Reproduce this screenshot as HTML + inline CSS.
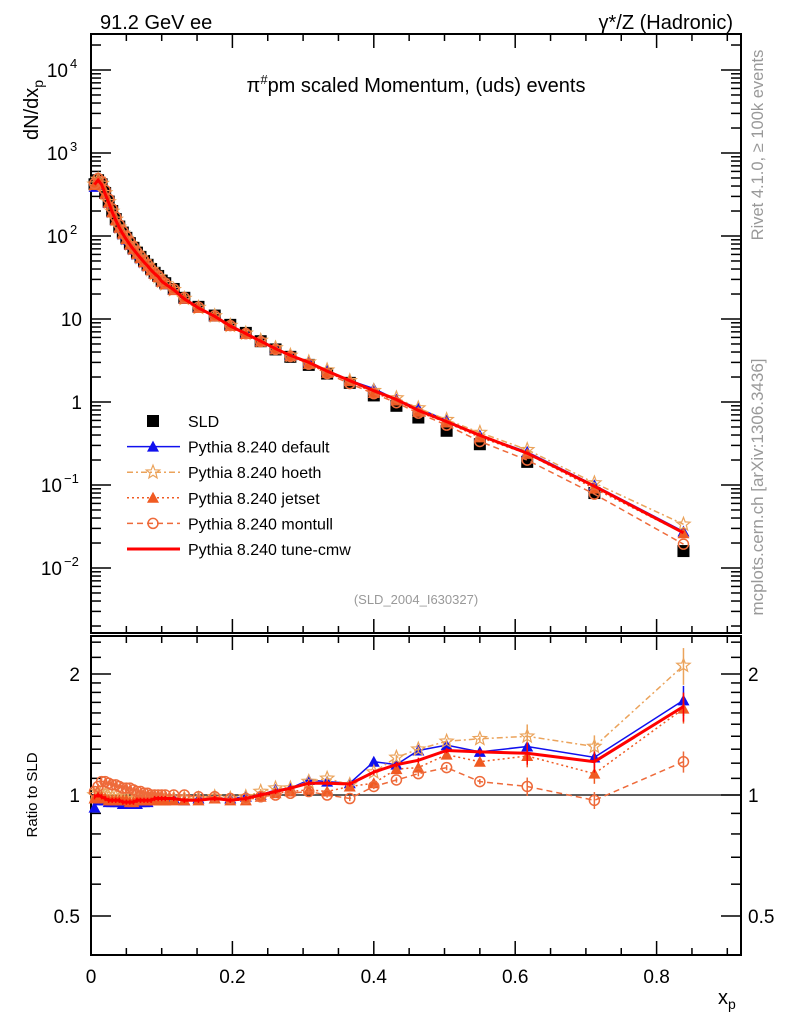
<!DOCTYPE html>
<html><head><meta charset="utf-8"><style>
body{margin:0;background:#fff;}
svg{display:block;font-family:"Liberation Sans",sans-serif;}
</style></head><body>
<svg id="c" width="786" height="1024" xmlns="http://www.w3.org/2000/svg">
<rect width="786" height="1024" fill="#fff"/>
<text x="100" y="29" font-size="20">91.2 GeV ee</text>
<text x="733" y="29" font-size="20" text-anchor="end">γ*/Z (Hadronic)</text>
<text x="416" y="92" font-size="20" text-anchor="middle">π<tspan dy="-8" font-size="13">#</tspan><tspan dy="8">pm scaled Momentum, (uds) events</tspan></text>
<text x="416" y="604" font-size="13" fill="#999" text-anchor="middle">(SLD_2004_I630327)</text>
<text transform="translate(763,145) rotate(-90)" font-size="16.5" fill="#999" text-anchor="middle">Rivet 4.1.0, ≥ 100k events</text>
<text transform="translate(763,487) rotate(-90)" font-size="17" fill="#999" text-anchor="middle">mcplots.cern.ch [arXiv:1306.3436]</text>
<text transform="translate(38,140) rotate(-90)" font-size="20" text-anchor="start">dN/dx<tspan dy="5" font-size="14">p</tspan></text>
<text transform="translate(37,795) rotate(-90)" font-size="15" text-anchor="middle">Ratio to SLD</text>
<text x="718" y="1004" font-size="20">x<tspan dy="5" font-size="14">p</tspan></text>
<g id="g"></g>
</svg>
<script>
const xs=[0.005,0.01,0.015,0.02,0.025,0.03,0.035,0.04,0.045,0.05,0.055,0.06,0.065,0.07,0.075,0.08,0.085,0.09,0.095,0.1,0.105,
0.117,0.132,0.152,0.175,0.197,0.219,0.24,0.261,0.282,0.308,0.334,0.366,0.40,0.432,0.463,0.503,0.55,0.617,0.712,0.838];
const sld=[420,470,420,330,260,200,160,130,110,95,82,72,63,56,50,45,40,36,33,29,27,
23,18,14,11,8.5,6.8,5.4,4.3,3.5,2.8,2.2,1.7,1.2,0.9,0.65,0.45,0.31,0.19,0.08,0.016];
const rDefault=[0.93,0.97,0.98,0.97,0.96,0.96,0.96,0.96,0.95,0.95,0.95,0.95,0.95,0.96,0.96,0.96,0.97,0.97,0.97,0.97,0.97,
0.98,0.97,0.98,0.98,0.98,0.99,1.0,1.03,1.04,1.09,1.08,1.07,1.21,1.19,1.29,1.33,1.28,1.32,1.24,1.72];
const rHoeth=[1.0,1.02,1.02,1.0,0.99,0.99,0.99,0.98,0.98,0.98,0.98,0.98,0.98,0.98,0.98,0.98,0.98,0.98,0.98,0.98,0.98,
0.98,0.98,0.98,0.99,0.98,0.99,1.02,1.04,1.04,1.08,1.10,1.06,1.14,1.24,1.30,1.36,1.38,1.40,1.32,2.1];
const rJetset=[0.98,0.99,0.99,0.98,0.97,0.97,0.97,0.97,0.97,0.97,0.96,0.96,0.97,0.97,0.97,0.97,0.97,0.97,0.97,0.97,0.97,
0.97,0.97,0.97,0.98,0.97,0.97,0.99,1.01,1.02,1.03,1.02,1.05,1.07,1.16,1.17,1.26,1.21,1.25,1.13,1.64];
const rMontull=[1.02,1.05,1.08,1.08,1.07,1.06,1.06,1.05,1.04,1.04,1.04,1.03,1.02,1.02,1.01,1.01,1.0,1.0,1.0,1.0,1.0,
1.0,1.0,0.99,0.99,0.98,0.98,0.99,1.0,1.01,1.02,1.0,0.98,1.05,1.09,1.13,1.17,1.08,1.05,0.97,1.21];
const rCmw=[0.99,1.0,0.99,0.98,0.97,0.97,0.97,0.97,0.96,0.96,0.96,0.96,0.97,0.97,0.97,0.97,0.97,0.98,0.98,0.98,0.98,
0.98,0.97,0.97,0.98,0.97,0.98,1.0,1.02,1.04,1.07,1.07,1.065,1.14,1.19,1.22,1.29,1.28,1.27,1.21,1.66];
const xTicks=[0,0.2,0.4,0.6,0.8];
const xTickLabels=["0","0.2","0.4","0.6","0.8"];
const yDecades=[-2,-1,0,1,2,3,4];
const yDecadeLabels=["10","10","1","10","10","10","10"];
const yDecadeSup=["−2","−1","","","2","3","4"];
const rTicks=[0.5,1,2];
const rTickLabels=["0.5","1","2"];

const L=91,R=741,T=34,B=633,RT=636,RB=955;
const X=v=>L+v*707;
const Y=v=>402-83*Math.log10(v);
const YR=r=>795-121*Math.log2(r);
const NS="http://www.w3.org/2000/svg";
const g=document.getElementById('g');
function mk(t,a,p){const e=document.createElementNS(NS,t);for(const k in a)e.setAttribute(k,a[k]);(p||g).appendChild(e);return e;}

let f=mk('rect',{x:L,y:T,width:R-L,height:B-T,fill:'none',stroke:'#000','stroke-width':2});

f=mk('rect',{x:L,y:RT,width:R-L,height:RB-RT,fill:'none',stroke:'#000','stroke-width':2});


for(let v=0;v<=0.92;v+=0.05){
  const big=Math.abs(v/0.2-Math.round(v/0.2))<1e-6, len=big?14:7, x=X(v);
  [[B,-1],[T,1],[RT,1],[RB,-1]].forEach(([y,d])=>mk('line',{x1:x,x2:x,y1:y,y2:y+d*len,stroke:'#000','stroke-width':1.5}));
}
xTicks.forEach((v,i)=>{const t=mk('text',{x:X(v),y:983,'font-size':19,'text-anchor':'middle'});t.textContent=xTickLabels[i];
});

for(let d=-3;d<=4;d++){for(let m=1;m<10;m++){const v=m*Math.pow(10,d);const y=Y(v);if(y<T||y>B)continue;
const len=m==1?20:10;mk('line',{x1:L,x2:L+len,y1:y,y2:y,stroke:'#000','stroke-width':1.5});mk('line',{x1:R,x2:R-len,y1:y,y2:y,stroke:'#000','stroke-width':1.5});}}
yDecades.forEach((d,i)=>{const t=mk('text',{x:yDecadeSup[i]?(d<0?62:68):82,y:Y(Math.pow(10,d))+7,'font-size':19,'text-anchor':'end'});
t.textContent=yDecadeLabels[i];
if(yDecadeSup[i]){const s=mk('tspan',{dy:-9,'font-size':13,x:yDecadeSup[i].length>1?(d<0?64:70):70},t);s.setAttribute('text-anchor','start');s.textContent=yDecadeSup[i];t.setAttribute('text-anchor','end');}
});

[0.4,0.5,0.6,0.7,0.8,0.9,1,1.1,1.2,1.3,1.4,1.5,1.6,1.7,1.8,1.9,2,2.2,2.4].forEach(r=>{const y=YR(r);if(y<RT||y>RB)return;
const big=rTicks.includes(r),len=big?20:10;mk('line',{x1:L,x2:L+len,y1:y,y2:y,stroke:'#000','stroke-width':1.5});mk('line',{x1:R,x2:R-len,y1:y,y2:y,stroke:'#000','stroke-width':1.5});});
rTicks.forEach((r,i)=>{let t=mk('text',{x:80,y:YR(r)+7,'font-size':19,'text-anchor':'end'});t.textContent=rTickLabels[i];

t=mk('text',{x:748,y:YR(r)+7,'font-size':19});t.textContent=rTickLabels[i];
});
let l1=mk('line',{x1:L,x2:R,y1:YR(1),y2:YR(1),stroke:'#000','stroke-width':1.2});


function marker(kind,x,y,c,p){
  if(kind=='tri')return mk('path',{d:`M${x-6},${y+5}L${x+6},${y+5}L${x},${y-6}Z`,fill:c},p);
  if(kind=='circ')return mk('circle',{cx:x,cy:y,r:5,fill:'none',stroke:c,'stroke-width':1.5},p);
  if(kind=='star'){let d='';for(let k=0;k<10;k++){const a=-Math.PI/2+k*Math.PI/5,rr=k%2?3:7;d+=(k?'L':'M')+(x+rr*Math.cos(a)).toFixed(1)+','+(y+rr*Math.sin(a)).toFixed(1);}
    return mk('path',{d:d+'Z',fill:'none',stroke:c,'stroke-width':1.2},p);}
  if(kind=='sq')return mk('rect',{x:x-6,y:y-6,width:12,height:12,fill:c},p);
  return null;
}
const series=[
 {name:'default',r:rDefault,c:'#1010ee',dash:'',w:1.5,m:'tri'},
 {name:'hoeth',r:rHoeth,c:'#eba35b',dash:'6,3,2,3',w:1.5,m:'star'},
 {name:'jetset',r:rJetset,c:'#f05a22',dash:'2,3',w:1.5,m:'tri'},
 {name:'montull',r:rMontull,c:'#ee6a3a',dash:'6,4',w:1.5,m:'circ'},
 {name:'tune-cmw',r:rCmw,c:'#ff0000',dash:'',w:3,m:null}
];
const sg=mk('g',{});
xs.forEach((x,i)=>{const m=marker('sq',X(x),Y(sld[i]),'#000',sg);});
series.forEach(s=>{
  const gg=mk('g',{});
  const pm=xs.map((x,i)=>X(x).toFixed(1)+','+Y(sld[i]*s.r[i]).toFixed(1)).join(' ');
  const pr=xs.map((x,i)=>X(x).toFixed(1)+','+YR(s.r[i]).toFixed(1)).join(' ');
  let a=mk('polyline',{points:pm,fill:'none',stroke:s.c,'stroke-width':s.w,'stroke-dasharray':s.dash},gg);
  
  a=mk('polyline',{points:pr,fill:'none',stroke:s.c,'stroke-width':s.w,'stroke-dasharray':s.dash},gg);
  
  xs.forEach((x,i)=>{
    const e=x>0.6?0.05*s.r[i]:0.015;
    mk('line',{x1:X(x),x2:X(x),y1:YR(s.r[i]*(1+e)),y2:YR(s.r[i]*(1-e)),stroke:s.c,'stroke-width':1.5},gg);
    if(s.m){let p=marker(s.m,X(x),Y(sld[i]*s.r[i]),s.c,gg);
      p=marker(s.m,X(x),YR(s.r[i]),s.c,gg);}
  });
});
const lg=mk('g',{});
const labels=['SLD','Pythia 8.240 default','Pythia 8.240 hoeth','Pythia 8.240 jetset','Pythia 8.240 montull','Pythia 8.240 tune-cmw'];
labels.forEach((t,i)=>{
  const y=421+i*25.6;
  const ge=mk('g',{},lg);
  if(i==0)marker('sq',153,y,'#000',ge);
  else{const s=series[i-1];mk('line',{x1:127,x2:180,y1:y,y2:y,stroke:s.c,'stroke-width':s.w,'stroke-dasharray':s.dash},ge);if(s.m)marker(s.m,153,y,s.c,ge);}
  const tx=mk('text',{x:188,y:y+6,'font-size':16},ge);tx.textContent=t;
});
</script>
</body></html>
